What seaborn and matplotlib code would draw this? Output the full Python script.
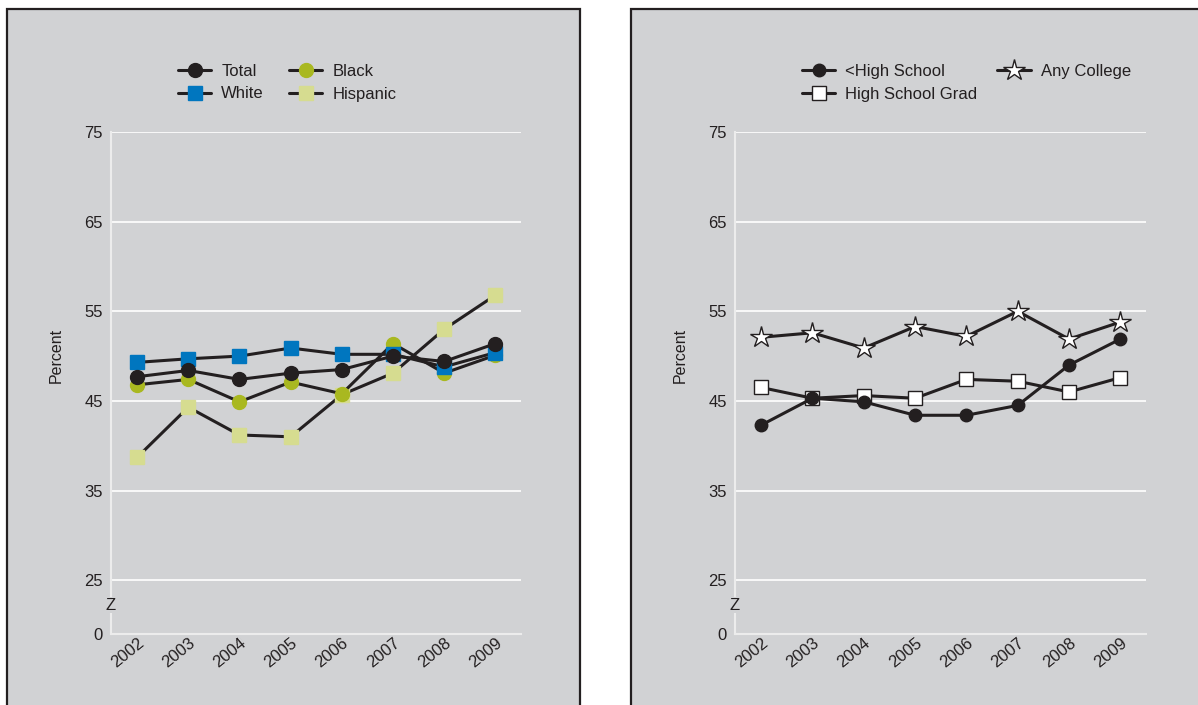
import matplotlib
matplotlib.use('Agg')
import matplotlib.pyplot as plt
from matplotlib.patches import Rectangle
import seaborn as sns

# данные
years = [2002, 2003, 2004, 2005, 2006, 2007, 2008, 2009]

total = [47.7, 48.4, 47.4, 48.1, 48.5, 50.0, 49.4, 51.4]
white = [49.3, 49.7, 50.0, 50.9, 50.2, 50.2, 48.8, 50.4]
black = [46.8, 47.4, 44.9, 47.1, 45.8, 51.4, 48.1, 50.1]
hispanic = [38.7, 44.3, 41.2, 41.0, 45.7, 48.1, 53.0, 56.8]

less_hs = [42.3, 45.3, 44.9, 43.4, 43.4, 44.5, 49.0, 51.9]
hs_grad = [46.5, 45.3, 45.6, 45.3, 47.4, 47.2, 46.0, 47.6]
any_college = [52.1, 52.6, 50.9, 53.3, 52.2, 55.0, 51.9, 53.8]

ytick_vals = [25, 35, 45, 55, 65, 75]
ytick_labels = ['0', '25', '35', '45', '55', '65', '75']

BG = '#d1d2d4'
INK = '#231f20'
YBOT = 19.0  # низ оси после разрыва

sns.set_theme(style='white')
plt.rcParams['font.family'] = ['Liberation Sans', 'DejaVu Sans']
plt.rcParams['text.color'] = INK

fig = plt.figure(figsize=(11.98, 7.05), dpi=100)
fig.patch.set_facecolor('white')

# серые панели с рамкой
fig.patches.append(Rectangle((7 / 1198, -0.02), 573 / 1198, 1.02 - 9 / 705, transform=fig.transFigure,
                             facecolor=BG, edgecolor=INK, linewidth=1.6, zorder=-5))
fig.patches.append(Rectangle((631 / 1198, -0.02), 0.5, 1.02 - 9 / 705, transform=fig.transFigure,
                             facecolor=BG, edgecolor=INK, linewidth=1.6, zorder=-5))

ax1 = fig.add_axes([111 / 1198, 1 - 634 / 705, 410 / 1198, 502 / 705])
ax2 = fig.add_axes([735 / 1198, 1 - 634 / 705, 411 / 1198, 502 / 705])
ax1.set_zorder(2)
ax2.set_zorder(2)


def line(ax, vals, label, marker, fc, ec, ms):
    sns.lineplot(x=years, y=vals, ax=ax, color=INK, linewidth=2.2, marker=marker, markersize=ms,
                 markerfacecolor=fc, markeredgecolor=ec, markeredgewidth=1, label=label)


# 1. По расе
line(ax1, hispanic, 'Hispanic', 's', '#d6dc90', '#d6dc90', 10)
line(ax1, black, 'Black', 'o', '#a9b820', '#a9b820', 10)
line(ax1, white, 'White', 's', '#0076bf', '#0076bf', 10)
line(ax1, total, 'Total', 'o', INK, INK, 10)

# 2. По образованию
line(ax2, hs_grad, 'High School Grad', 's', 'white', INK, 10)
line(ax2, any_college, 'Any College', '*', 'white', INK, 16)
line(ax2, less_hs, '<High School', 'o', INK, INK, 9)

for ax in (ax1, ax2):
    ax.set_facecolor(BG)
    ax.set_xlim(2001.49, 2009.5)
    ax.set_ylim(YBOT, 75)
    ax.set_yticks([YBOT] + ytick_vals)
    ax.set_yticklabels(ytick_labels)
    ax.set_xticks(years)
    ax.set_xticklabels([str(y) for y in years], rotation=39, ha='right', rotation_mode='anchor')
    for y in ytick_vals:
        ax.axhline(y, color='white', linewidth=1.2, zorder=0)
    for s in ('top', 'right'):
        ax.spines[s].set_visible(False)
    for s in ('left', 'bottom'):
        ax.spines[s].set_color('#ececec')
        ax.spines[s].set_linewidth(1.5)
    ax.tick_params(axis='y', length=0, pad=6, labelsize=12, labelcolor=INK)
    ax.tick_params(axis='x', direction='in', length=10, width=1.5, color='#f2f2f2', pad=1,
                   labelsize=12, labelcolor=INK)
    for t in ax.get_xticklabels():
        t.set_x(t.get_position()[0])
    ax.set_xlabel('')
    ax.set_ylabel('Percent', fontsize=11.5, color=INK)
    ax.yaxis.set_label_coords(-0.115, 0.555)
    ax.text(0, 22.2, 'Z', transform=ax.get_yaxis_transform(), ha='center', va='center', fontsize=12,
            color=INK, bbox=dict(facecolor=BG, edgecolor='none', pad=0.5), clip_on=False)
    ax.get_legend().remove()

h, l = ax1.get_legend_handles_labels()
order = [l.index(n) for n in ['Total', 'White', 'Black', 'Hispanic']]
fig.legend([h[i] for i in order], [l[i] for i in order], ncol=2, frameon=False, fontsize=12,
           loc='upper left', bbox_to_anchor=(178 / 1198, 1 - 64 / 705), borderpad=0, borderaxespad=0,
           labelspacing=0.45, columnspacing=1.5, handletextpad=0.6, handlelength=2.0)

h, l = ax2.get_legend_handles_labels()
order = [l.index(n) for n in ['<High School', 'High School Grad', 'Any College']]
fig.legend([h[i] for i in order], [l[i] for i in order], ncol=2, frameon=False, fontsize=12,
           loc='upper left', bbox_to_anchor=(802 / 1198, 1 - 64 / 705), borderpad=0, borderaxespad=0,
           labelspacing=0.45, columnspacing=1.2, handletextpad=0.6, handlelength=2.0)

plt.savefig('out.png', dpi=100, facecolor=fig.get_facecolor())
